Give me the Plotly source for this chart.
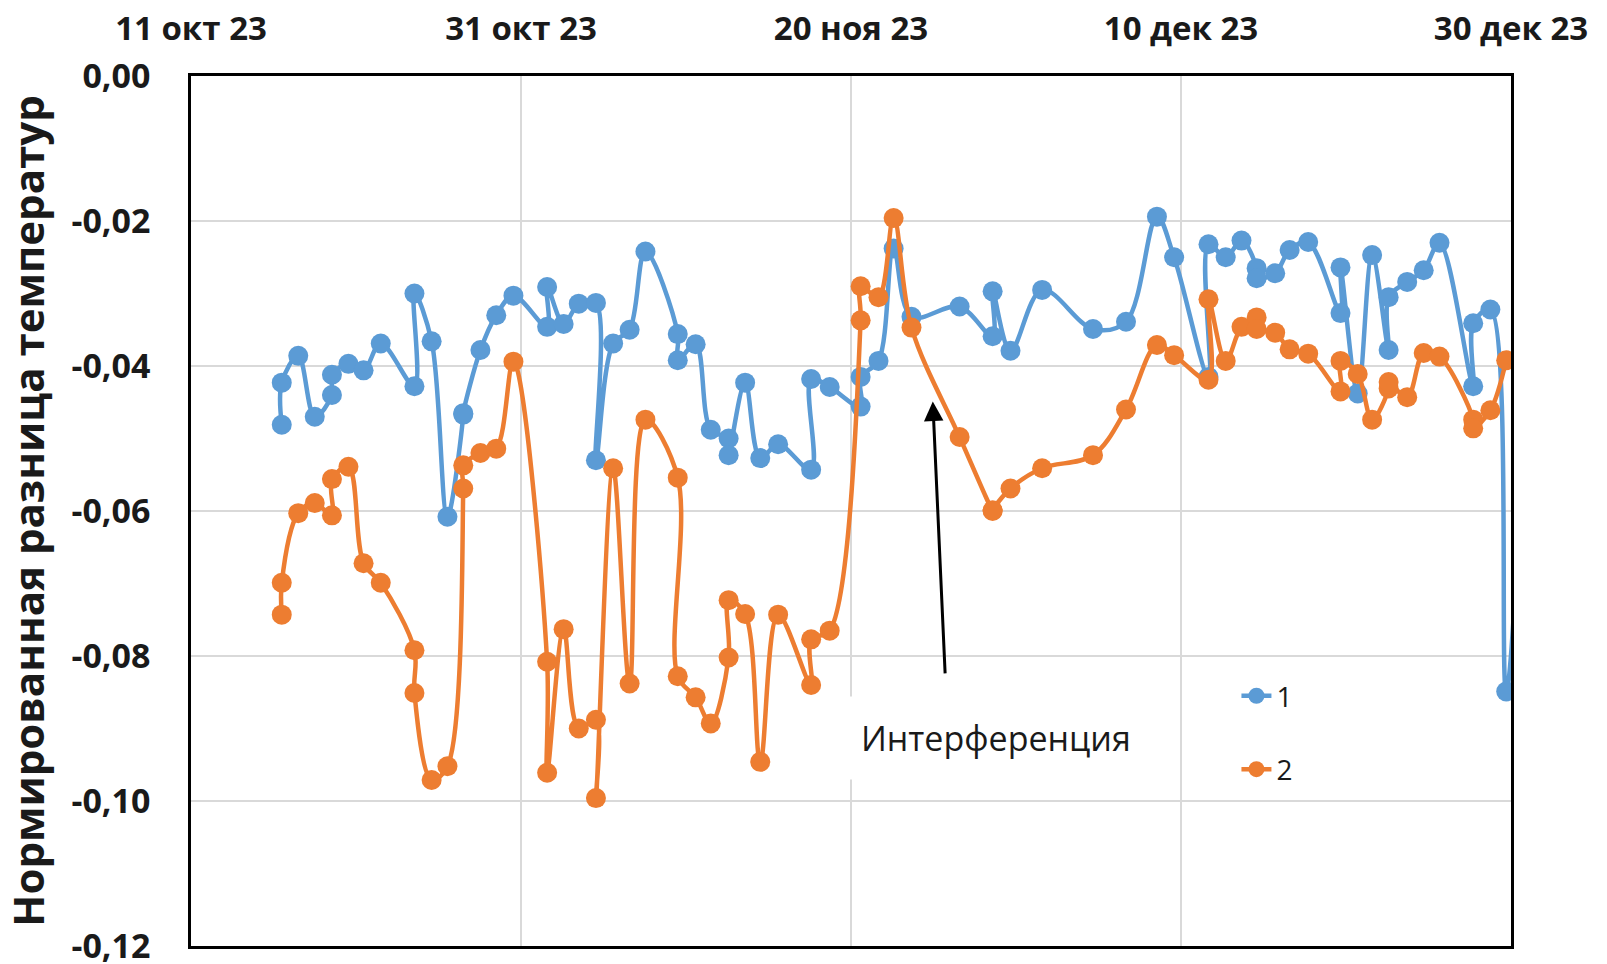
import plotly.graph_objects as go

# measurement times (pairs of equal timestamps = two readings on the same day)
dates = [
    "2023-10-16 12:00", "2023-10-16 12:00", "2023-10-17 12:00", "2023-10-18 12:00",
    "2023-10-19 13:00", "2023-10-19 13:00", "2023-10-20 13:00", "2023-10-21 11:00",
    "2023-10-22 12:00", "2023-10-24 13:00", "2023-10-24 13:00", "2023-10-25 14:00",
    "2023-10-26 13:00", "2023-10-27 12:00", "2023-10-27 12:00", "2023-10-28 13:00",
    "2023-10-29 12:00", "2023-10-30 13:00", "2023-11-01 14:00", "2023-11-01 14:00",
    "2023-11-02 14:00", "2023-11-03 12:00", "2023-11-04 13:00", "2023-11-04 13:00",
    "2023-11-05 14:00", "2023-11-06 14:00", "2023-11-07 13:00", "2023-11-09 12:00",
    "2023-11-09 12:00", "2023-11-10 14:00", "2023-11-11 12:00", "2023-11-12 14:00",
    "2023-11-12 14:00", "2023-11-13 14:00", "2023-11-14 12:00", "2023-11-15 14:00",
    "2023-11-17 14:00", "2023-11-17 14:00", "2023-11-18 17:00", "2023-11-20 14:00",
    "2023-11-20 14:00", "2023-11-21 16:00", "2023-11-22 14:00", "2023-11-23 16:00",
    "2023-11-26 14:00", "2023-11-28 14:00", "2023-11-28 14:00", "2023-11-29 16:00",
    "2023-12-01 14:00", "2023-12-04 16:00", "2023-12-06 16:00", "2023-12-08 13:00",
    "2023-12-09 14:00", "2023-12-11 16:00", "2023-12-11 16:00", "2023-12-12 17:00",
    "2023-12-13 16:00", "2023-12-14 14:00", "2023-12-14 14:00", "2023-12-15 17:00",
    "2023-12-16 14:00", "2023-12-17 17:00", "2023-12-19 16:00", "2023-12-19 16:00",
    "2023-12-20 17:00", "2023-12-21 14:00", "2023-12-22 14:00", "2023-12-22 14:00",
    "2023-12-23 17:00", "2023-12-24 17:00", "2023-12-25 16:00", "2023-12-27 17:00",
    "2023-12-27 17:00", "2023-12-28 18:00", "2023-12-29 17:00", "2023-12-31 02:00",
]

series_1 = [
    -0.0481, -0.0423, -0.0386, -0.0470,
    -0.0440, -0.0412, -0.0397, -0.0406,
    -0.0369, -0.0428, -0.0300, -0.0366,
    -0.0608, -0.0467, -0.0465, -0.0378,
    -0.0330, -0.0303, -0.0346, -0.0291,
    -0.0342, -0.0314, -0.0313, -0.0530,
    -0.0369, -0.0350, -0.0242, -0.0356,
    -0.0392, -0.0370, -0.0488, -0.0500,
    -0.0523, -0.0423, -0.0527, -0.0508,
    -0.0543, -0.0418, -0.0429, -0.0456,
    -0.0415, -0.0393, -0.0238, -0.0332,
    -0.0318, -0.0359, -0.0297, -0.0379,
    -0.0295, -0.0349, -0.0339, -0.0194,
    -0.0250, -0.0415, -0.0232, -0.0250,
    -0.0227, -0.0265, -0.0279, -0.0272,
    -0.0240, -0.0229, -0.0327, -0.0264,
    -0.0438, -0.0247, -0.0378, -0.0305,
    -0.0284, -0.0268, -0.0230, -0.0428,
    -0.0341, -0.0322, -0.0849, -0.0300,
]

series_2 = [
    -0.0743, -0.0699, -0.0603, -0.0589,
    -0.0606, -0.0556, -0.0539, -0.0672,
    -0.0699, -0.0792, -0.0851, -0.0971,
    -0.0952, -0.0569, -0.0537, -0.0520,
    -0.0514, -0.0394, -0.0808, -0.0961,
    -0.0763, -0.0900, -0.0888, -0.0996,
    -0.0541, -0.0838, -0.0474, -0.0554,
    -0.0828, -0.0857, -0.0893, -0.0802,
    -0.0723, -0.0742, -0.0946, -0.0743,
    -0.0840, -0.0777, -0.0765, -0.0337,
    -0.0290, -0.0305, -0.0196, -0.0347,
    -0.0498, -0.0600, -0.0599, -0.0569,
    -0.0541, -0.0523, -0.0460, -0.0371,
    -0.0385, -0.0419, -0.0308, -0.0393,
    -0.0346, -0.0333, -0.0349, -0.0354,
    -0.0377, -0.0383, -0.0435, -0.0393,
    -0.0411, -0.0474, -0.0431, -0.0422,
    -0.0443, -0.0382, -0.0387, -0.0474,
    -0.0486, -0.0461, -0.0392, None,
]

series_names = ["1", "2"]
series_colors = ["#5B9BD5", "#ED7D31"]

x_tick_dates = ["2023-10-11", "2023-10-31", "2023-11-20", "2023-12-10", "2023-12-30"]
x_tick_labels = ["11 окт 23", "31 окт 23", "20 ноя 23", "10 дек 23", "30 дек 23"]
y_tick_values = [0.0, -0.02, -0.04, -0.06, -0.08, -0.10, -0.12]
y_tick_labels = ["0,00", "-0,02", "-0,04", "-0,06", "-0,08", "-0,10", "-0,12"]

y_title = "Нормированная разница температур"
note_text = "Интерференция"

FONT = "Open Sans"
TEXT_COLOR = "#1a1a1a"

fig = go.Figure()

for values, name, color in zip([series_1, series_2], series_names, series_colors):
    fig.add_trace(go.Scatter(
        x=dates,
        y=values,
        name=name,
        legendgroup=name,
        mode="lines+markers",
        line=dict(color=color, width=4.5, shape="spline", smoothing=1),
        marker=dict(color=color, size=20),
    ))

fig.update_xaxes(
    side="top",
    automargin=False,
    range=[x_tick_dates[0], x_tick_dates[-1]],
    tickvals=x_tick_dates,
    ticktext=x_tick_labels,
    tickfont=dict(family=FONT, size=33, color=TEXT_COLOR, weight="bold"),
    ticklabelstandoff=20,
    ticklabeloverflow="allow",
    showgrid=True,
    gridcolor="#d9d9d9",
    gridwidth=1.5,
    showline=True,
    mirror=True,
    linecolor="black",
    linewidth=2.5,
    zeroline=False,
)

fig.update_yaxes(
    automargin=False,
    range=[-0.12, 0.0],
    tickvals=y_tick_values,
    ticktext=y_tick_labels,
    tickfont=dict(family=FONT, size=34, color=TEXT_COLOR, weight="bold"),
    ticklabelstandoff=31,
    ticklabeloverflow="allow",
    showgrid=True,
    gridcolor="#d9d9d9",
    gridwidth=1.5,
    showline=True,
    mirror=True,
    linecolor="black",
    linewidth=2.5,
    zeroline=False,
)

# rotated y-axis title, placed as an annotation so it can sit closer to the edge
fig.add_annotation(
    x=-0.1245, y=0.5, xref="paper", yref="paper",
    xanchor="center", yanchor="middle",
    text=y_title, textangle=-90, showarrow=False,
    font=dict(family=FONT, size=42, color=TEXT_COLOR, weight="bold"),
)

# arrow pointing at the interference zone
fig.add_annotation(
    x="2023-11-24 23:00", y=-0.0449,
    ax="2023-11-25 17:00", ay=-0.0826,
    xref="x", yref="y", axref="x", ayref="y",
    text="", showarrow=True,
    arrowhead=2, arrowsize=1.3, arrowwidth=3, arrowcolor="black",
)

fig.add_annotation(
    x="2023-11-28 19:00", y=-0.0913,
    xref="x", yref="y",
    text=note_text, showarrow=False,
    font=dict(family=FONT, size=34, color=TEXT_COLOR),
    bgcolor="white", borderpad=18,
)

# the page body adds an 8px offset, so the figure is 8px smaller and margins shifted
fig.update_layout(
    width=1599,
    height=956,
    margin=dict(l=183, r=96, t=68, b=18, autoexpand=False),
    plot_bgcolor="white",
    paper_bgcolor="white",
    legend=dict(
        x=0.792, y=0.316, xanchor="left", yanchor="top",
        traceorder="grouped", tracegroupgap=34,
        font=dict(family=FONT, size=28, color=TEXT_COLOR),
        bgcolor="rgba(0,0,0,0)",
    ),
)

fig.write_html("out.html")
